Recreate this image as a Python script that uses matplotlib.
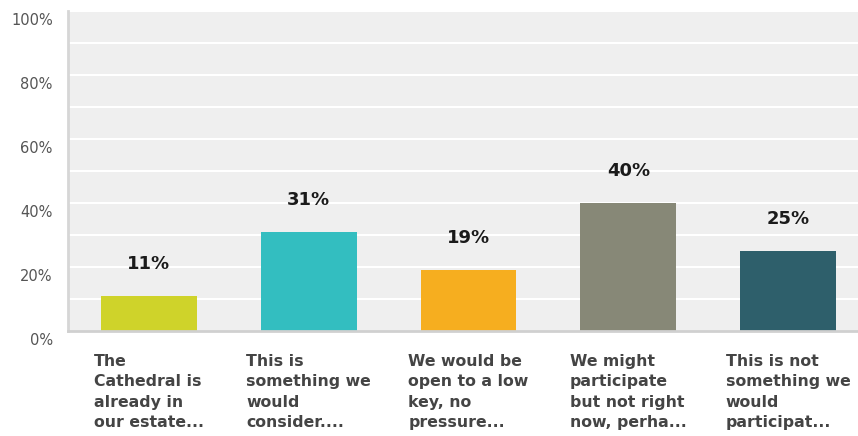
import matplotlib.pyplot as plt
import matplotlib.transforms as mtransforms
import numpy as np

# survey answers (wrapped as shown on the axis) and share of respondents
answers = [
    "The\nCathedral is\nalready in\nour estate...",
    "This is\nsomething we\nwould\nconsider....",
    "We would be\nopen to a low\nkey, no\npressure...",
    "We might\nparticipate\nbut not right\nnow, perha...",
    "This is not\nsomething we\nwould\nparticipat...",
]
shares = [11, 31, 19, 40, 25]
bar_colors = ["#cfd32a", "#33bec0", "#f6ae1f", "#878877", "#2e5f6b"]
yticks = [0, 20, 40, 60, 80, 100]

fig = plt.figure(figsize=(8.58, 4.36), dpi=100)
ax = fig.add_axes([68 / 858, 105 / 436, 790 / 858, 320 / 436])
ax.set_facecolor("#efefef")

x = np.arange(len(shares))
ax.bar(x, shares, width=0.6, color=bar_colors, zorder=3)

# white grid every 10%
for g in range(10, 101, 10):
    ax.axhline(g, color="white", lw=1.5, zorder=1)

ax.set_xlim(-0.506, 4.4375)
ax.set_ylim(0, 100)

for s in ["top", "right"]:
    ax.spines[s].set_visible(False)
ax.spines["left"].set_color("#d6d6d6")
ax.spines["left"].set_linewidth(2)
ax.spines["bottom"].set_color("#d0d0d0")
ax.spines["bottom"].set_linewidth(2)
ax.spines["bottom"].set_zorder(4)

ax.set_xticks([])
ax.set_yticks(yticks)
ax.set_yticklabels([f"{t}%" for t in yticks], fontsize=10.5, color="#555555")
ax.tick_params(axis="y", length=0, pad=11)
shift = mtransforms.ScaledTranslation(0, -8 / 100, fig.dpi_scale_trans)
for lab in ax.get_yticklabels():
    lab.set_transform(lab.get_transform() + shift)

# value labels above the bars
for xi, v in zip(x, shares):
    ax.text(xi, v + 10, f"{v}%", ha="center", va="center",
            fontsize=13, fontweight="bold", color="#1a1a1a", zorder=5)

# category labels under the axis
for xi, lab in zip(x, answers):
    ax.annotate(lab, xy=(xi, 0), xycoords="data", xytext=(0, -23),
                textcoords="offset pixels", ha="center", va="top",
                multialignment="left", fontsize=11.3, fontweight="bold",
                color="#444444", linespacing=1.45, annotation_clip=False)

fig.savefig("out.png", dpi=100)
